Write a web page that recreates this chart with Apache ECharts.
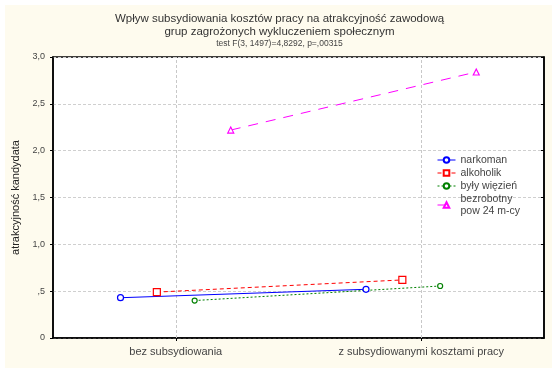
<!DOCTYPE html>
<html><head><meta charset="utf-8">
<script src="https://cdn.jsdelivr.net/npm/echarts@6/dist/echarts.min.js"></script>
<style>html,body{margin:0;padding:0;background:#fff}#c{width:559px;height:374px}</style>
</head><body><div id="c"></div>
<script>
const categories = ['bez subsydiowania', 'z subsydiowanymi kosztami pracy'];
const seriesNames = ['narkoman', 'alkoholik', 'były więzień', 'bezrobotny\npow 24 m-cy'];
const narkoman = [0.43, 0.52];
const alkoholik = [0.49, 0.62];
const bylyWiezien = [0.40, 0.555];
const bezrobotny = [2.22, 2.84];
const yTickLabels = ['0', ',5', '1,0', '1,5', '2,0', '2,5', '3,0'];
const titleText = 'Wpływ subsydiowania kosztów pracy na atrakcyjność zawodową\ngrup zagrożonych wykluczeniem społecznym';
const subText = 'test F(3, 1497)=4,8292, p=,00315';
const yName = 'atrakcyjność kandydata';

const FONT = '"Liberation Sans",Arial,sans-serif';
const offsets = [-0.225, -0.077, 0.077, 0.224];
const colors = ['#0000ff', '#ff0000', '#008000', '#ff00ff'];
const symbols = ['circle', 'rect', 'circle', 'triangle'];
const symSizes = [6, 7, 5, 6];
const lineTypes = ['solid', [4, 3], [2, 2], [10, 8]];
const values = [narkoman, alkoholik, bylyWiezien, bezrobotny];

const chart = echarts.init(document.getElementById('c'), null, {renderer: 'canvas'});
const series = values.map((vals, i) => ({
  name: seriesNames[i],
  type: 'line',
  data: vals.map((v, k) => [k + 1 + offsets[i], v]),
  symbol: symbols[i],
  symbolSize: symSizes[i],
  showAllSymbol: true,
  itemStyle: {color: '#fff', borderColor: colors[i], borderWidth: 1.2},
  lineStyle: {color: colors[i], width: 1, type: lineTypes[i]},
  z: 5,
  animation: false
}));
series.push({
  type: 'line', data: [], silent: true, animation: false,
  markLine: {
    silent: true, symbol: 'none', label: {show: false},
    lineStyle: {color: '#c8c8c8', type: [3, 2], width: 1},
    data: [{xAxis: 1}, {xAxis: 2}]
  }
});

chart.setOption({
  animation: false,
  backgroundColor: '#ffffff',
  graphic: [{type: 'rect', shape: {x: 5, y: 5, width: 547, height: 363}, style: {fill: '#fefbee'}, z: -10, silent: true}],
  title: {
    text: titleText, subtext: subText, left: 'center', top: 7, itemGap: 1,
    textStyle: {fontFamily: FONT, fontSize: 11.5, fontWeight: 'normal', color: '#333', lineHeight: 13},
    subtextStyle: {fontFamily: FONT, fontSize: 8.5, color: '#444'}
  },
  grid: {left: 53, top: 57, right: 15, bottom: 36, show: true, backgroundColor: '#fff', borderColor: '#000', borderWidth: 1.5},
  legend: {
    orient: 'vertical', left: 432, top: 149, itemWidth: 18, itemHeight: 7, itemGap: 1,
    lineStyle: {width: 1},
    textStyle: {fontFamily: FONT, fontSize: 10.5, color: '#444', lineHeight: 12},
    data: seriesNames
  },
  xAxis: {
    type: 'value', min: 0.5, max: 2.5,
    axisLine: {show: true, lineStyle: {color: '#000', width: 1.5}},
    axisTick: {show: true, customValues: [1, 2], length: 3, lineStyle: {color: '#000'}},
    axisLabel: {customValues: [1, 2], formatter: v => categories[Math.round(v) - 1] || '', fontFamily: FONT, fontSize: 11, color: '#444', margin: 8},
    splitLine: {show: false}
  },
  yAxis: [{
    type: 'value', min: 0, max: 3, interval: 0.5,
    name: yName, nameLocation: 'middle', nameGap: 21,
    nameTextStyle: {fontFamily: FONT, fontSize: 11, color: '#222'},
    axisLine: {show: true, lineStyle: {color: '#000', width: 1.5}},
    axisTick: {show: true, length: 3, lineStyle: {color: '#000'}},
    axisLabel: {formatter: (v) => yTickLabels[Math.round(v * 2)], fontFamily: FONT, fontSize: 9, color: '#444', margin: 8},
    splitLine: {show: true, lineStyle: {color: '#cfcfcf', type: [3, 2], width: 1}}
  }, {
    type: 'value', min: 0, max: 3, interval: 0.5, position: 'right',
    axisLine: {show: true, lineStyle: {color: '#000', width: 1.5}},
    axisTick: {show: true, inside: true, length: 3, lineStyle: {color: '#000'}},
    axisLabel: {show: false}, splitLine: {show: false}
  }],
  series: series
});
</script></body></html>
